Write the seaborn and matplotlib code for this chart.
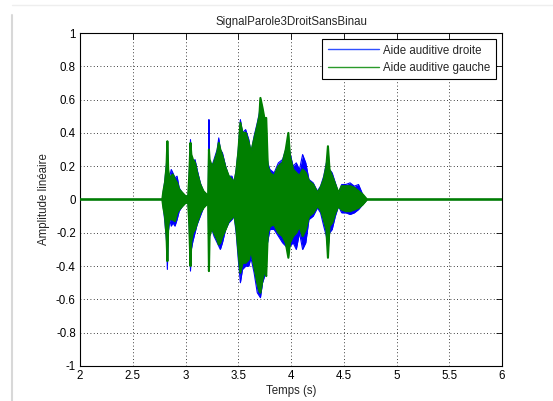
import matplotlib
matplotlib.use('Agg')
import matplotlib.pyplot as plt
from matplotlib.lines import Line2D
import seaborn as sns
import pandas as pd

# envelope of the two hearing-aid signals
temps = [2.000, 2.780, 2.790, 2.805, 2.820, 2.828, 2.836, 2.850, 2.865, 2.880,
         2.900, 2.920, 2.940, 2.970, 3.000, 3.025, 3.035, 3.047, 3.055, 3.070,
         3.090, 3.110, 3.140, 3.170, 3.200, 3.215, 3.222, 3.228, 3.250, 3.270,
         3.300, 3.315, 3.330, 3.350, 3.380, 3.410, 3.440, 3.460, 3.480, 3.500,
         3.520, 3.540, 3.570, 3.600, 3.620, 3.650, 3.680, 3.700, 3.710, 3.730,
         3.750, 3.765, 3.780, 3.800, 3.840, 3.880, 3.920, 3.950, 3.975, 3.990,
         4.020, 4.050, 4.080, 4.110, 4.140, 4.170, 4.210, 4.250, 4.280, 4.310,
         4.335, 4.350, 4.365, 4.390, 4.420, 4.450, 4.480, 4.520, 4.560, 4.600,
         4.640, 4.680, 4.720, 6.000]

droite_haut = [0, 0, 0.05, 0.12, 0.22, 0.34, 0.16, 0.14, 0.18, 0.16,
               0.13, 0.14, 0.07, 0.04, 0.02, 0.02, 0.15, 0.36, 0.25, 0.22,
               0.24, 0.18, 0.10, 0.05, 0.03, 0.03, 0.48, 0.22, 0.20, 0.24,
               0.30, 0.37, 0.30, 0.28, 0.20, 0.14, 0.14, 0.10, 0.18, 0.30,
               0.48, 0.40, 0.42, 0.36, 0.28, 0.38, 0.46, 0.52, 0.58, 0.52,
               0.46, 0.30, 0.22, 0.18, 0.16, 0.22, 0.24, 0.30, 0.34, 0.28,
               0.20, 0.22, 0.18, 0.27, 0.22, 0.12, 0.10, 0.05, 0.08, 0.14,
               0.22, 0.22, 0.18, 0.16, 0.10, 0.04, 0.09, 0.09, 0.10, 0.08,
               0.09, 0.03, 0, 0]
droite_bas = [0, 0, -0.05, -0.14, -0.25, -0.42, -0.20, -0.12, -0.16, -0.14,
              -0.16, -0.12, -0.07, -0.04, -0.02, -0.02, -0.15, -0.43, -0.30, -0.25,
              -0.20, -0.15, -0.10, -0.05, -0.03, -0.03, -0.40, -0.20, -0.18, -0.22,
              -0.26, -0.28, -0.30, -0.26, -0.18, -0.14, -0.12, -0.10, -0.20, -0.36,
              -0.50, -0.42, -0.40, -0.40, -0.35, -0.44, -0.56, -0.58, -0.59, -0.50,
              -0.46, -0.30, -0.25, -0.18, -0.18, -0.22, -0.26, -0.28, -0.30, -0.28,
              -0.26, -0.30, -0.20, -0.30, -0.26, -0.12, -0.10, -0.05, -0.08, -0.16,
              -0.22, -0.30, -0.20, -0.18, -0.10, -0.04, -0.08, -0.08, -0.09, -0.08,
              -0.06, -0.03, 0, 0]
gauche_haut = [0, 0, 0.05, 0.10, 0.20, 0.35, 0.18, 0.12, 0.14, 0.15,
               0.12, 0.10, 0.06, 0.04, 0.02, 0.02, 0.14, 0.34, 0.27, 0.24,
               0.22, 0.16, 0.09, 0.05, 0.03, 0.03, 0.30, 0.24, 0.20, 0.22,
               0.28, 0.34, 0.30, 0.26, 0.19, 0.14, 0.12, 0.10, 0.16, 0.28,
               0.46, 0.40, 0.40, 0.34, 0.28, 0.36, 0.44, 0.50, 0.61, 0.55,
               0.48, 0.49, 0.20, 0.16, 0.14, 0.20, 0.22, 0.30, 0.40, 0.26,
               0.18, 0.16, 0.14, 0.18, 0.16, 0.11, 0.09, 0.04, 0.07, 0.12,
               0.20, 0.32, 0.18, 0.14, 0.09, 0.04, 0.08, 0.08, 0.08, 0.07,
               0.05, 0.03, 0, 0]
gauche_bas = [0, 0, -0.05, -0.10, -0.22, -0.37, -0.16, -0.10, -0.12, -0.12,
              -0.13, -0.08, -0.06, -0.04, -0.02, -0.02, -0.14, -0.40, -0.25, -0.20,
              -0.18, -0.14, -0.08, -0.05, -0.03, -0.03, -0.43, -0.22, -0.17, -0.20,
              -0.24, -0.27, -0.26, -0.22, -0.18, -0.13, -0.11, -0.09, -0.16, -0.30,
              -0.44, -0.38, -0.38, -0.36, -0.30, -0.40, -0.50, -0.55, -0.56, -0.48,
              -0.42, -0.46, -0.20, -0.16, -0.15, -0.20, -0.22, -0.26, -0.35, -0.26,
              -0.22, -0.20, -0.16, -0.22, -0.18, -0.10, -0.08, -0.04, -0.06, -0.12,
              -0.18, -0.35, -0.16, -0.14, -0.08, -0.04, -0.06, -0.07, -0.07, -0.06,
              -0.05, -0.03, 0, 0]

series = ['Aide auditive droite', 'Aide auditive gauche']
couleurs = ['#0000ff', '#007f00']
epaisseurs = [0.8, 1.5]

x_ticks = [2, 2.5, 3, 3.5, 4, 4.5, 5, 5.5, 6]
y_ticks = [-1, -0.8, -0.6, -0.4, -0.2, 0, 0.2, 0.4, 0.6, 0.8, 1]

sns.set_style('white')
plt.rcParams['font.family'] = ['Liberation Sans', 'DejaVu Sans']
plt.rcParams['font.size'] = 8.3

fig = plt.figure(figsize=(5.53, 4.01), dpi=100)
ax = fig.add_axes([0.1447, 0.0873, 0.7631, 0.8304])

df = pd.DataFrame({'temps': temps,
                   'droite_haut': droite_haut, 'droite_bas': droite_bas,
                   'gauche_haut': gauche_haut, 'gauche_bas': gauche_bas})

# right channel first, left channel drawn on top (like matlab plot order)
for key, col, lw in zip(['droite', 'gauche'], couleurs, epaisseurs):
    ax.fill_between(df['temps'], df[key + '_bas'], df[key + '_haut'],
                    color=col, linewidth=0, zorder=3)
    sns.lineplot(data=df, x='temps', y=key + '_haut', color=col,
                 linewidth=lw, ax=ax, legend=False, zorder=3)
    sns.lineplot(data=df, x='temps', y=key + '_bas', color=col,
                 linewidth=lw, ax=ax, legend=False, zorder=3)

ax.set_xlim(2, 6)
ax.set_ylim(-1, 1)
ax.set_xticks(x_ticks)
ax.set_xticklabels([f'{v:g}' for v in x_ticks])
ax.set_yticks(y_ticks)
ax.set_yticklabels([f'{v:g}' for v in y_ticks])

ax.set_axisbelow(True)
ax.grid(True, color='black', linestyle=(0, (1, 3)), linewidth=0.6)
ax.tick_params(direction='in', length=4, width=0.6, top=True, right=True,
               labelsize=8.3, pad=3, colors='black')
for s in ax.spines.values():
    s.set_visible(True)
    s.set_color('black')
    s.set_linewidth(0.8)

ax.set_title('SignalParole3DroitSansBinau', fontsize=8.3, pad=6)
ax.set_xlabel('Temps (s)', fontsize=8.3, labelpad=2)
ax.set_ylabel('Amplitude linéaire', fontsize=8.3, labelpad=4)

handles = [Line2D([], [], color=c, linewidth=1.0) for c in ['#3050ff', '#2a9a2a']]
leg = ax.legend(handles, series, loc='upper right', fontsize=8.3,
                fancybox=False, framealpha=1, edgecolor='black',
                borderaxespad=0.5, handlelength=4.4, handletextpad=0.4,
                borderpad=0.5, labelspacing=0.45)
leg.get_frame().set_linewidth(0.8)
leg.set_zorder(5)

# faint frame of the original screenshot
fig.add_artist(Line2D([0.022, 0.022], [0.0, 0.963], color='#d8d8d8', linewidth=1.5))
fig.add_artist(Line2D([0.022, 1.0], [0.988, 0.988], color='#eeeeee', linewidth=1.0))

fig.savefig('out.png', dpi=100)
